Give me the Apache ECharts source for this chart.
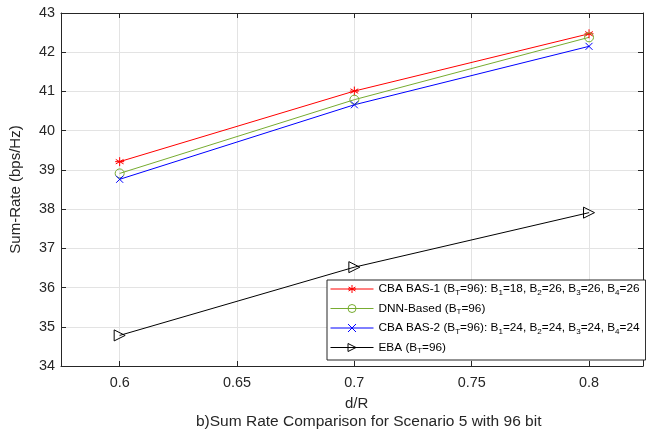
<!DOCTYPE html>
<html>
<head>
<meta charset="utf-8">
<script src="https://cdn.jsdelivr.net/npm/echarts@6/dist/echarts.min.js"></script>
<style>html,body{margin:0;padding:0;background:#fff;}#c{width:646px;height:433px;}</style>
</head>
<body>
<div id="c"></div>
<script>
var xVals = [0.6, 0.7, 0.8];
var cbaBas1 = [39.21, 41.01, 42.47];
var dnnBased = [38.91, 40.79, 42.38];
var cbaBas2 = [38.76, 40.66, 42.15];
var eba = [34.78, 36.52, 37.91];
var xTicks = [0.6, 0.65, 0.7, 0.75, 0.8];
var seriesNames = ['CBA BAS-1', 'DNN-Based', 'CBA BAS-2', 'EBA'];
var legendLabels = [
  'CBA BAS-1 (B{s|T}=96): B{s|1}=18, B{s|2}=26, B{s|3}=26, B{s|4}=26',
  'DNN-Based (B{s|T}=96)',
  'CBA BAS-2 (B{s|T}=96): B{s|1}=24, B{s|2}=24, B{s|3}=24, B{s|4}=24',
  'EBA (B{s|T}=96)'
];
var xTitle = 'd/R';
var yTitle = 'Sum-Rate (bps/Hz)';
var caption = 'b)Sum Rate Comparison for Scenario 5 with 96 bit';

function pairs(ys){ return xVals.map(function(x,i){ return [x, ys[i]]; }); }

var FONT = 'Liberation Sans';
var AX = '#262626';
var asterisk = 'path://M5,0L5,10M0.67,2.5L9.33,7.5M0.67,7.5L9.33,2.5M0,5L10,5';
var cross = 'path://M0,0L10,10M0,10L10,0';
var triangle = 'path://M0,0L10,5L0,10Z';
var ring = 'path://M0,5A5,5,0,1,1,10,5A5,5,0,1,1,0,5Z';

function mk(name, data, color, symbol, size, fill){
  return {
    name: name, type: 'line', data: pairs(data),
    symbol: symbol, symbolSize: size, showAllSymbol: true,
    lineStyle: {color: color, width: 1},
    itemStyle: {color: fill, borderColor: color, borderWidth: 1},
    emphasis: {disabled: true},
    animation: false, z: 3
  };
}

var chart = echarts.init(document.getElementById('c'), null, {renderer: 'canvas'});
var axLine = {show: true, lineStyle: {color: AX, width: 1}};
chart.setOption({
  animation: false,
  backgroundColor: '#fff',
  grid: {left: 60, top: 13, right: 3, bottom: 67, containLabel: false},
  title: [
    {text: xTitle, left: 345, top: 396, textStyle: {fontFamily: FONT, fontSize: 15, fontWeight: 'normal', color: AX}, padding: 0},
    {text: caption, left: 196, top: 414, textStyle: {fontFamily: FONT, fontSize: 15.5, fontWeight: 'normal', color: AX}, padding: 0}
  ],
  xAxis: [
    {type: 'value', min: 0.575, max: 0.823, position: 'bottom',
     axisLine: axLine,
     axisTick: {show: true, inside: true, length: 5, lineStyle: {color: AX}, customValues: xTicks},
     axisLabel: {customValues: xTicks, fontFamily: FONT, fontSize: 14.4, color: AX, margin: 10,
       formatter: function(v){ return String(+v.toFixed(2)); }},
     splitLine: {show: true, lineStyle: {color: '#e3e3e3', width: 1}}},
    {type: 'value', min: 0.575, max: 0.823, position: 'top',
     axisLine: axLine,
     axisTick: {show: true, inside: true, length: 5, lineStyle: {color: AX}, customValues: xTicks},
     axisLabel: {show: false}, splitLine: {show: false}}
  ],
  yAxis: [
    {type: 'value', min: 34, max: 43, interval: 1, position: 'left',
     axisLine: axLine,
     axisTick: {show: true, inside: true, length: 5, lineStyle: {color: AX}},
     axisLabel: {fontFamily: FONT, fontSize: 14.4, color: AX, margin: 6},
     splitLine: {show: true, lineStyle: {color: '#e3e3e3', width: 1}},
     name: yTitle, nameLocation: 'middle', nameRotate: 90, nameGap: 38,
     nameTextStyle: {fontFamily: FONT, fontSize: 15, color: AX}},
    {type: 'value', min: 34, max: 43, interval: 1, position: 'right',
     axisLine: axLine,
     axisTick: {show: true, inside: true, length: 5, lineStyle: {color: AX}},
     axisLabel: {show: false}, splitLine: {show: false}}
  ],
  legend: {
    show: true, orient: 'vertical', left: 327, top: 280,
    data: seriesNames,
    backgroundColor: '#fff', borderColor: AX, borderWidth: 1, borderRadius: 0,
    padding: [3, 6, 5, 3], itemGap: 6, itemWidth: 43, itemHeight: 10,
    lineStyle: {width: 1},
    itemStyle: {borderWidth: 1},
    textStyle: {fontFamily: FONT, fontSize: 11.8, color: '#000',
      rich: {s: {fontFamily: FONT, fontSize: 8, color: '#000', padding: [7, 0, 0, 0]}}},
    formatter: function(name){ return legendLabels[seriesNames.indexOf(name)]; }
  },
  series: [
    mk(seriesNames[0], cbaBas1, '#ff0000', asterisk, 9, '#ff0000'),
    mk(seriesNames[1], dnnBased, '#77ac30', ring, 9, 'rgba(255,255,255,0)'),
    mk(seriesNames[2], cbaBas2, '#0000ff', cross, 7, '#0000ff'),
    mk(seriesNames[3], eba, '#000000', triangle, 11, 'rgba(255,255,255,0)')
  ]
});
</script>
</body>
</html>
